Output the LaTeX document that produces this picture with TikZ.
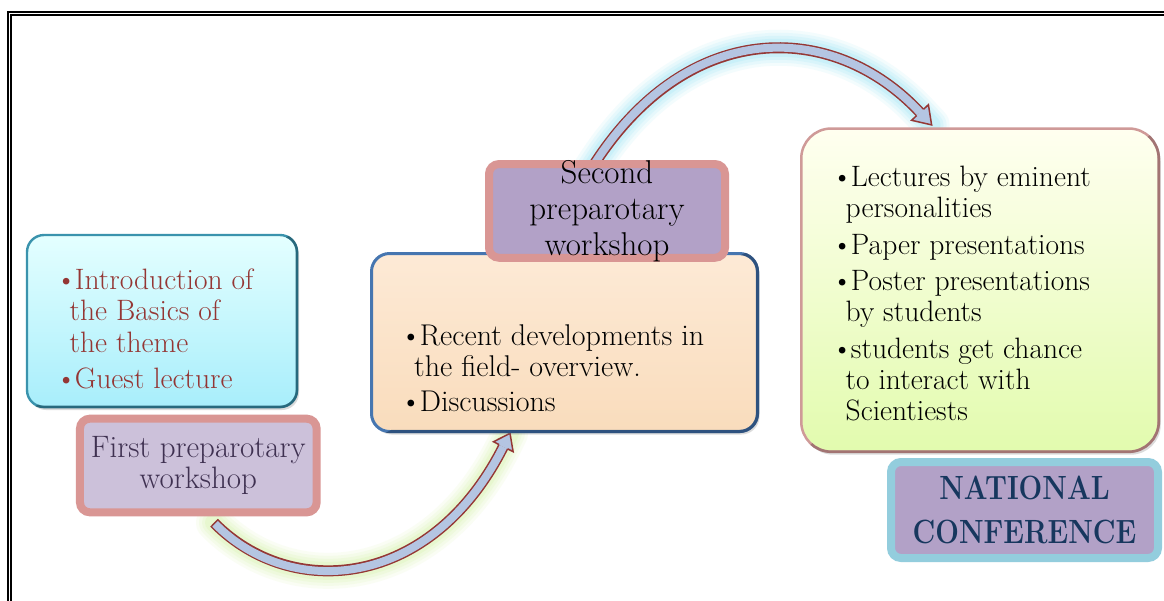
\documentclass[tikz,border=0pt]{standalone}
\usepackage{fontspec}
\usetikzlibrary{shadows}
\definecolor{arrowred}{HTML}{953735}
\definecolor{arrowfill}{HTML}{B4C5E2}
\definecolor{glowgreen}{HTML}{CFF39A}
\definecolor{glowcyan}{HTML}{8EE3F5}
\definecolor{boxAline}{HTML}{3A93AD}
\definecolor{boxAdark}{HTML}{1D5364}
\definecolor{boxAtop}{HTML}{E4FFFF}
\definecolor{boxAbot}{HTML}{A8EEFB}
\definecolor{textred}{HTML}{943634}
\definecolor{pinkline}{HTML}{D99694}
\definecolor{lilacA}{HTML}{CCC1DA}
\definecolor{lilacB}{HTML}{B2A1C7}
\definecolor{darkpurple}{HTML}{3F3151}
\definecolor{boxCline}{HTML}{4676B0}
\definecolor{boxCdark}{HTML}{223F66}
\definecolor{peachtop}{HTML}{FDEAD6}
\definecolor{peachbot}{HTML}{F9DCBC}
\definecolor{boxEline}{HTML}{CF9A98}
\definecolor{boxEdark}{HTML}{8A6060}
\definecolor{yelltop}{HTML}{FFFFF0}
\definecolor{yellbot}{HTML}{E2FBAE}
\definecolor{skyline}{HTML}{93CDDD}
\definecolor{navytext}{HTML}{17375E}
\newcommand{\wideserif}[3]{\fontsize{#1}{#2}\selectfont\addfontfeatures{LetterSpace=#3}}
\newcommand{\bul}{\hspace*{-5pt}\textbullet\kern-2pt}
\begin{document}
\begin{tikzpicture}[x=1pt,y=-1pt,
  boxshadow/.style={drop shadow={shadow xshift=2pt,shadow yshift=-3pt,opacity=0.28}},
  infobox/.style={rectangle, boxshadow, inner sep=0pt},
  labelbox/.style={rectangle, rounded corners=10pt, line width=8pt, inner sep=0pt, boxshadow},
  bullets/.style={anchor=north west, inner sep=0pt, align=left},
  shaftout/.style={line width=11pt, draw=arrowred, line cap=butt},
  shaftin/.style={line width=8pt, draw=arrowfill, line cap=butt, shorten <=1.5pt},
  headline/.style={draw=arrowred, line width=1.5pt, line join=miter},
  framerule/.style={draw=black, line width=1.9pt},
  bevel/.style={opacity=0.65}
]
\useasboundingbox (0,0) rectangle (1164,600);
\fill[white] (0,0) rectangle (1164,600);
% double frame
\draw[framerule] (8.2,12.2) rectangle (1180,620);
\draw[framerule] (11,15.2) rectangle (1177,617);

% arrow end points
\coordinate (a1s) at (214,522.7);
\coordinate (a1e) at (503.3,446.7);
\coordinate (a1t) at (510,433.3);
\coordinate (a2s) at (590.5,170);
\coordinate (a2e) at (920,112.5);
\coordinate (a2t) at (931.6,124.9);

% glows
\foreach \w/\o in {36/0.10,30/0.12,24/0.15,18/0.2}{
  \draw[glowgreen, line width=\w pt, opacity=\o, line cap=round, line join=round]
    (a1s) .. controls (291,600.8) and (431.3,589.6) .. (a1e) -- (a1t);
  \draw[glowcyan, line width=\w pt, opacity=\o, line cap=round, line join=round]
    (a2s) .. controls (685.5,17.2) and (833,19.1) .. (a2e) -- (a2t);
}

% arrow 1 (first -> second workshop)
\draw[shaftout] (a1s) .. controls (291,600.8) and (431.3,589.6) .. (a1e);
\draw[shaftin] (a1s) .. controls (291,600.8) and (431.3,589.6) .. (a1e);
\fill[arrowfill] (513.1,451.65) -- (a1t) -- (493.5,441.75) -- cycle;
\draw[headline] (507.5,448.8) -- (513.1,451.65) -- (a1t) -- (493.5,441.75) -- (499.1,444.6);

% arrow 2 (second workshop -> conference)
\draw[shaftout] (a2s) .. controls (685.5,17.2) and (833,19.1) .. (a2e);
\draw[shaftin] (a2s) .. controls (685.5,17.2) and (833,19.1) .. (a2e);
\fill[arrowfill] (928.4,104.7) -- (a2t) -- (911.6,120.3) -- cycle;
\draw[headline] (923.5,109.3) -- (928.4,104.7) -- (a2t) -- (911.6,120.3) -- (916.5,115.7);

% box A
\node[infobox, minimum width=270pt, minimum height=172pt, rounded corners=17pt,
      draw=boxAline, line width=2.4pt, top color=boxAtop, bottom color=boxAbot] (A) at (162,321) {};
\begin{scope}
  \clip (312,220) -- (312,422) -- (12,422) -- cycle;
  \draw[boxAdark, bevel, line width=2.6pt, rounded corners=17pt] (27,235) rectangle (297,407);
\end{scope}
\node[bullets, text=textred, font=\wideserif{29.5}{31.5}{3}] (At) at (60.5,267.5)
  {\rule{0pt}{21.5pt}\bul Introduction of\\
   \hspace*{9pt}the Basics of\\
   \hspace*{9pt}the theme\\[4.5pt]
   \bul Guest lecture};

% box B
\node[labelbox, draw=pinkline, fill=lilacA, minimum width=236.7pt, minimum height=93.7pt,
      align=center, text=darkpurple, font=\wideserif{31}{31.5}{4}] (B) at (198.3,465.5)
  {First preparotary\\workshop};

% box C
\node[infobox, minimum width=386pt, minimum height=178pt, rounded corners=18pt,
      draw=boxCline, line width=3pt, top color=peachtop, bottom color=peachbot] (C) at (564.5,342.5) {};
\begin{scope}
  \clip (775,238) -- (775,448) -- (355,448) -- cycle;
  \draw[boxCdark, bevel, line width=3.2pt, rounded corners=18pt] (371.5,253.5) rectangle (757.5,431.5);
\end{scope}
\node[bullets, text=black, font=\wideserif{30}{31.7}{4.5}] (Ct) at (405,323)
  {\rule{0pt}{22pt}\bul Recent developments in\\
   \hspace*{9pt}the field- overview.\\[3.3pt]
   \bul Discussions};

% box D
\node[labelbox, draw=pinkline, fill=lilacB, minimum width=236pt, minimum height=93.7pt] (D) at (607,210.9) {};
\node[anchor=north, inner sep=0pt, align=center, text=black, font=\wideserif{33}{36}{5}] (Dt) at (607,159.3)
  {\rule{0pt}{24pt}Second\\preparotary\\workshop};

% box E
\node[infobox, minimum width=357.5pt, minimum height=323.2pt, rounded corners=30pt,
      draw=boxEline, line width=2.5pt, top color=yelltop, bottom color=yellbot] (E) at (980,290.1) {};
\begin{scope}
  \clip (1175,112) -- (1175,468) -- (785,468) -- cycle;
  \draw[boxEdark, bevel, line width=2.7pt, rounded corners=30pt] (801.25,128.5) rectangle (1158.75,451.75);
\end{scope}
\node[bullets, text=black, font=\wideserif{29.5}{31}{3}] (Et) at (836.5,165.2)
  {\rule{0pt}{21.5pt}\bul Lectures by eminent\\
   \hspace*{9pt}personalities\\[5.5pt]
   \bul Paper presentations\\[5.5pt]
   \bul Poster presentations\\
   \hspace*{9pt}by students\\[5.5pt]
   \bul students get chance\\
   \hspace*{9pt}to interact with\\
   \hspace*{9pt}Scientiests};

% box F
\node[labelbox, draw=skyline, fill=lilacB, minimum width=267pt, minimum height=96pt,
      align=center, text=navytext, font=\fontsize{28}{44}\selectfont\bfseries] (F) at (1024.5,510)
  {\scalebox{1}[1.2]{NATIONAL}\\\scalebox{1}[1.2]{CONFERENCE}};
\end{tikzpicture}
\end{document}
